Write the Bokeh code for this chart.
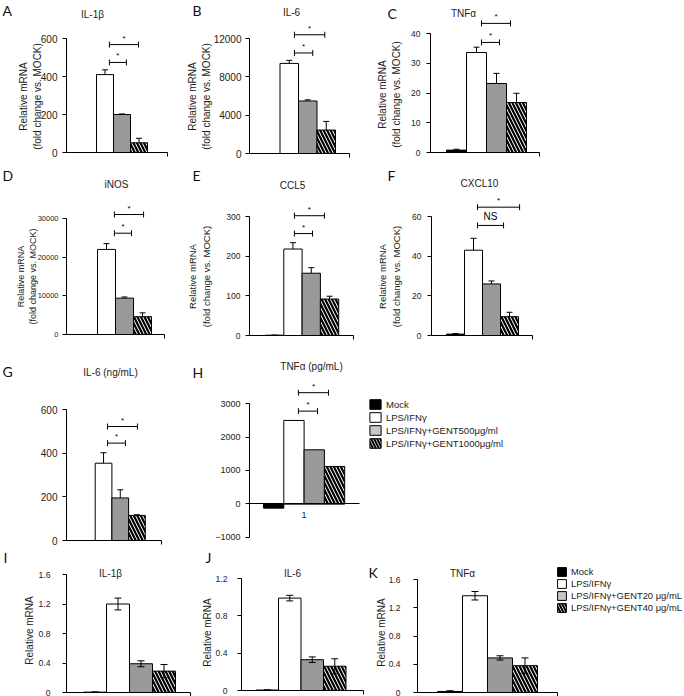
import math
from bokeh.plotting import figure
from bokeh.layouts import row, column
from bokeh.models import Range1d, FixedTicker, Label, Legend, LegendItem, ColumnDataSource
from bokeh.core.properties import value, field
from bokeh.embed import file_html
from bokeh.resources import INLINE

# ---------------- data ----------------
groups_top = ["Mock", "LPS/IFNγ", "LPS/IFNγ+GENT500μg/ml", "LPS/IFNγ+GENT1000μg/ml"]
groups_bottom = ["Mock", "LPS/IFNγ", "LPS/IFNγ+GENT20 μg/mL", "LPS/IFNγ+GENT40 μg/mL"]
bar_pos = [1, 2, 3, 4]

a_vals = [0, 410, 200, 51]
a_err = [0, 25, 3, 24]
a_ticks = [0, 200, 400, 600]
a_sig = [(2.26, 3.26, 474, "*"), (2.26, 3.97, 568, "*")]

b_vals = [0, 9400, 5480, 2450]
b_err = [0, 320, 120, 900]
b_ticks = [0, 4000, 8000, 12000]
b_sig = [(2.28, 3.27, 10490, "*"), (2.28, 3.92, 12390, "*")]

c_vals = [0.8, 33.6, 23.2, 16.8]
c_err = [0.3, 1.8, 3.4, 3.1]
c_ticks = [0, 10, 20, 30, 40]
c_sig = [(2.25, 3.15, 37.0, "*"), (2.25, 3.7, 43.4, "*")]

d_vals = [0, 22000, 9400, 4600]
d_err = [0, 1500, 300, 1000]
d_ticks = [0, 10000, 20000, 30000]
d_sig = [(2.44, 3.39, 26200, "*"), (2.44, 4.06, 31030, "*")]

e_vals = [0.8, 218, 157, 92]
e_err = [0.3, 16, 14, 7]
e_ticks = [0, 100, 200, 300]
e_sig = [(2.08, 3.07, 257, "*"), (2.08, 3.72, 302, "*")]

f_vals = [0.7, 43, 26, 9.5]
f_err = [0.3, 6, 1.5, 2.2]
f_ticks = [0, 20, 40, 60]
f_sig = [(2.22, 3.67, 55.5, "NS"), (2.22, 4.56, 64.7, "*")]

g_vals = [0, 354, 195, 115]
g_err = [0, 48, 37, 3]
g_ticks = [0, 200, 400, 600]
g_sig = [(2.24, 3.31, 446, "*"), (2.24, 4.03, 522, "*")]

h_vals = [-130, 2500, 1620, 1120]
h_err = [0, 0, 0, 0]
h_ticks = [-1000, 0, 1000, 2000, 3000]
h_sig = [(2.22, 3.16, 2780, "*"), (2.22, 3.7, 3333, "*")]
h_category = "1"

i_vals = [0.005, 1.2, 0.39, 0.29]
i_err = [0.003, 0.08, 0.04, 0.09]
i_ticks = [0, 0.4, 0.8, 1.2, 1.6]

j_vals = [0.005, 0.99, 0.33, 0.26]
j_err = [0.003, 0.03, 0.03, 0.08]
j_ticks = [0, 0.4, 0.8, 1.2]

k_vals = [0.015, 1.37, 0.49, 0.38]
k_err = [0.01, 0.06, 0.03, 0.11]
k_ticks = [0, 0.4, 0.8, 1.2, 1.6]

# ---------------- layout (page pixels) ----------------
# box = figure (left, top, width, height); axis = (y-axis x, x-axis end x);
# bars = (left edge of first bar, bar width); ys = (pixel of 0, pixel of top tick)
LAYOUT = {
    "A": dict(box=(0, 0, 186, 166), axis=(66, 167), bars=(79, 17), ys=(152, 38),
              letter=(2, 10), title=(92, 14), ylab=(30, 96), tf="10px", so=5, yf="10px"),
    "B": dict(box=(186, 0, 185, 166), axis=(249, 349), bars=(261, 18.5), ys=(153, 38),
              letter=(192, 10), title=(291, 12), ylab=(199, 96), tf="10px", so=4, yf="10px"),
    "C": dict(box=(371, 0, 313, 166), axis=(430, 539), bars=(446, 20), ys=(152, 33),
              letter=(387, 13), title=(463, 13), ylab=(389, 94), tf="8.5px", so=6, yf="10px"),
    "D": dict(box=(0, 166, 186, 178), axis=(66, 164), bars=(79, 18), ys=(334, 218),
              letter=(2, 175), title=(116, 184), ylab=(26.5, 276), tf="7.5px", so=4, yf="9px"),
    "E": dict(box=(186, 166, 185, 178), axis=(249, 353), bars=(265, 18.3), ys=(335, 216),
              letter=(192, 175), title=(292, 185), ylab=(199, 276), tf="8.5px", so=5, yf="9.5px"),
    "F": dict(box=(371, 166, 313, 178), axis=(431, 532), bars=(446, 18), ys=(335, 216),
              letter=(387, 175), title=(479, 183), ylab=(389, 276), tf="8.5px", so=6, yf="9.5px"),
    "G": dict(box=(0, 344, 186, 204), axis=(66, 161), bars=(78, 16.7), ys=(540, 409),
              letter=(2, 371), title=(110, 372), ylab=None, tf="10px", so=5),
    "H": dict(box=(186, 344, 498, 204), axis=(249, 359), bars=(263, 20.3), ys=(503.3, 403.3),
              letter=(192, 372), title=(311, 366), ylab=None, tf="9px", so=5),
    "I": dict(box=(0, 548, 196, 148), axis=(66, 190), bars=(83, 23), ys=(692, 574),
              letter=(3, 557), title=(110, 573), ylab=(29, 630), tf="8.6px", so=12, yf="10px"),
    "J": dict(box=(196, 548, 171, 148), axis=(241, 363), bars=(255.5, 22.5), ys=(690, 578),
              letter=(205, 557), title=(292, 573), ylab=(206.5, 632), tf="8.6px", so=10, yf="10px"),
    "K": dict(box=(367, 548, 317, 148), axis=(417, 557), bars=(437, 25), ys=(692, 579),
              letter=(368, 572), title=(462, 573), ylab=(380.5, 632), tf="8.5px", so=13, yf="10px"),
}

FONT = "Liberation Sans"
LETTER_FONT = "Lato"
BAR_FILL = ["black", "white", "#999999", "white"]
BAR_HATCH = ["blank", "blank", "blank", "left_diagonal_line"]
LEGEND_FILL = ["black", "white", "#c8c8c8", "white"]
YLAB2 = "Relative mRNA\n(fold change vs. MOCK)"


def make_panel(key, title, vals, errs, ticks, sig=None, sym=False, ylabel=None, category=None):
    L = LAYOUT[key]
    left, top, W, H = L["box"]
    X0, Xend = L["axis"]
    M, w = L["bars"]
    y0px, ytpx = L["ys"]
    T = ticks[-1]
    s = T / (y0px - ytpx)

    def fx(px):
        return 0.5 + (px - M) / w

    def fy(py):
        return (y0px - py) * s

    p = figure(width=W, height=H,
               x_range=Range1d(fx(left), fx(left + W)),
               y_range=Range1d(fy(top + H), fy(top)),
               output_backend="svg", toolbar_location=None, title=None,
               min_border_left=0, min_border_right=0, min_border_top=0, min_border_bottom=0)
    p.outline_line_color = None
    p.grid.visible = False
    p.background_fill_color = "white"
    p.border_fill_color = "white"

    src = ColumnDataSource(dict(x=bar_pos, top=vals, fill=BAR_FILL, hatch=BAR_HATCH))
    p.vbar(x="x", top="top", bottom=0, width=1, source=src, fill_color=field("fill"),
           line_color="black", line_width=1, hatch_pattern=field("hatch"),
           hatch_color="black", hatch_scale=7, hatch_weight=2.2)

    # error bars
    ex, lo, hi = [], [], []
    for xv, v, e in zip(bar_pos, vals, errs):
        if e > 0:
            ex.append(xv)
            lo.append(v - e if sym else v)
            hi.append(v + e)
    if ex:
        p.segment(x0=ex, y0=lo, x1=ex, y1=hi, line_color="black", line_width=1)
        p.scatter(x=ex, y=hi, marker="dash", size=6 if not sym else 7, line_color="black", line_width=1)
        if sym:
            p.scatter(x=ex, y=lo, marker="dash", size=7, line_color="black", line_width=1)

    # significance brackets
    if sig:
        bx0 = [b[0] for b in sig]
        bx1 = [b[1] for b in sig]
        by = [b[2] for b in sig]
        bt = [b[3] for b in sig]
        p.segment(x0=bx0, y0=by, x1=bx1, y1=by, line_color="black", line_width=1)
        p.scatter(x=bx0 + bx1, y=by + by, marker="dash", angle=math.pi / 2, size=6,
                  line_color="black", line_width=1)
        mid = [(a + b) / 2 for a, b in zip(bx0, bx1)]
        star = [(sx, yy, t) for sx, yy, t in zip(mid, by, bt) if t == "*"]
        ns = [(sx, yy, t) for sx, yy, t in zip(mid, by, bt) if t != "*"]
        if star:
            p.text(x=[q[0] for q in star], y=[q[1] for q in star], text=[q[2] for q in star],
                   text_font=value(FONT), text_font_size=value("8px"), text_align="center",
                   text_baseline="bottom", y_offset=-2, text_color="black")
        if ns:
            p.text(x=[q[0] for q in ns], y=[q[1] for q in ns], text=[q[2] for q in ns],
                   text_font=value(FONT), text_font_size=value("10px"), text_align="center",
                   text_baseline="bottom", y_offset=-3, text_color="black")

    # axes
    ya = p.yaxis[0]
    ya.ticker = FixedTicker(ticks=ticks)
    ya.bounds = (ticks[0], ticks[-1])
    ya.fixed_location = fx(X0)
    ya.major_tick_out = 4
    ya.major_tick_in = 0
    ya.minor_tick_out = 0
    ya.minor_tick_in = 0
    ya.major_label_standoff = L["so"]
    ya.major_label_text_font = FONT
    ya.major_label_text_font_size = L["tf"]
    ya.major_label_text_color = "#222222"
    ya.axis_line_color = "black"
    ya.major_tick_line_color = "black"
    ya.major_label_overrides = {0: "0"}

    xa = p.xaxis[0]
    xa.fixed_location = 0
    xa.bounds = (fx(X0), fx(Xend))
    xa.minor_tick_out = 0
    xa.minor_tick_in = 0
    xa.axis_line_color = "black"
    xa.major_tick_line_color = "black"
    if category is not None:
        xa.ticker = FixedTicker(ticks=[2.5])
        xa.major_label_overrides = {2.5: category}
        xa.major_tick_out = 0
        xa.major_tick_in = 0
        xa.major_label_standoff = 8
        xa.major_label_text_font = FONT
        xa.major_label_text_font_size = L["tf"]
        xa.major_label_text_color = "#222222"
    else:
        xa.ticker = FixedTicker(ticks=[fx(Xend)])
        xa.major_tick_out = 4
        xa.major_tick_in = 0
        xa.major_label_text_color = None

    # texts
    lx, ly = L["letter"]
    p.add_layout(Label(x=fx(lx), y=fy(ly), text=key, text_font=LETTER_FONT, text_font_size="14px",
                       text_align="left", text_baseline="middle", text_color="#111111"))
    tx, ty = L["title"]
    p.add_layout(Label(x=fx(tx), y=fy(ty), text=title, text_font=FONT, text_font_size="10px",
                       text_align="center", text_baseline="middle", text_color="#222222"))
    if ylabel is not None and L["ylab"] is not None:
        yx, yy = L["ylab"]
        p.add_layout(Label(x=fx(yx), y=fy(yy), text=ylabel, text_font=FONT, text_font_size=L["yf"],
                           text_align="center", text_baseline="middle", angle=math.pi / 2,
                           text_color="#222222"))
    return p


def add_legend(p, key, labels, lx, ltop, gw, gh, font_size):
    left, top, W, H = LAYOUT[key]["box"]
    items = []
    for i, (lab, col, hat) in enumerate(zip(labels, LEGEND_FILL, BAR_HATCH)):
        # zero-height proxy bar sitting on the x-axis, used only for the legend swatch
        r = p.vbar(x=[bar_pos[i]], top=[0], bottom=[0], width=1, fill_color=col, line_color="black",
                   line_width=1, hatch_pattern=hat, hatch_color="black", hatch_scale=6,
                   hatch_weight=2)
        items.append(LegendItem(label=lab, renderers=[r]))
    n = len(labels)
    height = n * gh + (n - 1) * 1
    leg = Legend(items=items, location=(lx - left, (top + H) - (ltop + height)),
                 orientation="vertical",
                 glyph_width=gw, glyph_height=gh, label_height=gh, label_standoff=4, spacing=1,
                 padding=0, margin=0, border_line_color=None, background_fill_alpha=0,
                 label_text_font=FONT, label_text_font_size=font_size, label_text_color="#222222")
    p.add_layout(leg, "center")


pA = make_panel("A", "IL-1β", a_vals, a_err, a_ticks, a_sig, ylabel=YLAB2)
pB = make_panel("B", "IL-6", b_vals, b_err, b_ticks, b_sig, ylabel=YLAB2)
pC = make_panel("C", "TNFα", c_vals, c_err, c_ticks, c_sig, ylabel=YLAB2)
pD = make_panel("D", "iNOS", d_vals, d_err, d_ticks, d_sig, ylabel=YLAB2)
pE = make_panel("E", "CCL5", e_vals, e_err, e_ticks, e_sig, ylabel=YLAB2)
pF = make_panel("F", "CXCL10", f_vals, f_err, f_ticks, f_sig, ylabel=YLAB2)
pG = make_panel("G", "IL-6 (ng/mL)", g_vals, g_err, g_ticks, g_sig)
pH = make_panel("H", "TNFα (pg/mL)", h_vals, h_err, h_ticks, h_sig, category=h_category)
pI = make_panel("I", "IL-1β", i_vals, i_err, i_ticks, sym=True, ylabel="Relative mRNA")
pJ = make_panel("J", "IL-6", j_vals, j_err, j_ticks, sym=True, ylabel="Relative mRNA")
pK = make_panel("K", "TNFα", k_vals, k_err, k_ticks, sym=True, ylabel="Relative mRNA")

add_legend(pH, "H", groups_top, 368, 398, 14, 12, "9.5px")
add_legend(pK, "K", groups_bottom, 556, 566, 11, 11, "9.4px")

layout = column(
    row(pA, pB, pC, spacing=0),
    row(pD, pE, pF, spacing=0),
    row(pG, pH, spacing=0),
    row(pI, pJ, pK, spacing=0),
    spacing=0,
)

open("out.html", "w").write(file_html(layout, INLINE))
